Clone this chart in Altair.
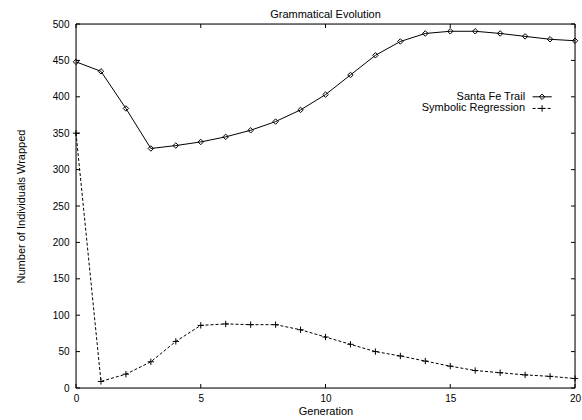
import altair as alt
import pandas as pd

# ---- data ----
generations = list(range(21))
santa_fe = [448, 435, 384, 329, 333, 338, 345, 354, 366, 382, 403,
            430, 457, 476, 487, 490, 490, 487, 483, 479, 477]
symbolic = [350, 9, 19, 36, 64, 86, 88, 87, 87, 80, 70,
            60, 50, 44, 37, 30, 24, 21, 18, 16, 13]
series_names = ["Santa Fe Trail", "Symbolic Regression"]
x_ticks = [0, 5, 10, 15, 20]
y_ticks = [0, 50, 100, 150, 200, 250, 300, 350, 400, 450, 500]

FONT = "Liberation Sans"
X_DOM = [0, 20]
Y_DOM = [0, 500]
W, H = 499, 364
XT = 4 * (X_DOM[1] - X_DOM[0]) / W   # 4px inward tick in data units
YT = 4 * (Y_DOM[1] - Y_DOM[0]) / H

sf = pd.DataFrame({"g": generations, "v": santa_fe})
sr = pd.DataFrame({"g": generations, "v": symbolic})

xs = alt.Scale(domain=X_DOM, nice=False, zero=False)
ys = alt.Scale(domain=Y_DOM, nice=False)

x_axis = alt.Axis(values=x_ticks, title="Generation", tickSize=0, domain=False,
                  grid=False, labelPadding=5, titlePadding=2, format="d",
                  labelFlush=False, titleFontWeight="normal")
y_axis = alt.Axis(values=y_ticks, title="Number of Individuals Wrapped",
                  tickSize=0, domain=False, grid=False, labelPadding=7,
                  titlePadding=26, format="d", labelFlush=False,
                  titleFontWeight="normal")


def X(field="g"):
    return alt.X(f"{field}:Q", scale=xs, axis=x_axis)


def Y(field="v"):
    return alt.Y(f"{field}:Q", scale=ys, axis=y_axis)


sf_line = alt.Chart(sf).mark_line(color="black", strokeWidth=1).encode(x=X(), y=Y())
sf_pts = alt.Chart(sf).mark_point(shape="diamond", filled=False, color="black",
                                  size=30, strokeWidth=1, opacity=1).encode(x=X(), y=Y())
sr_line = alt.Chart(sr).mark_line(color="black", strokeWidth=1,
                                  strokeDash=[3, 2]).encode(x=X(), y=Y())
CROSS = "M-1,0H1M0,-1V1"
sr_pts = alt.Chart(sr).mark_point(shape=CROSS, filled=False, color="black",
                                  size=40, strokeWidth=1, opacity=1).encode(x=X(), y=Y())

# border box and inward, mirrored ticks (gnuplot style)
rows = [
    {"x": X_DOM[0], "x2": X_DOM[1], "y": Y_DOM[0], "y2": Y_DOM[0]},
    {"x": X_DOM[0], "x2": X_DOM[1], "y": Y_DOM[1], "y2": Y_DOM[1]},
    {"x": X_DOM[0], "x2": X_DOM[0], "y": Y_DOM[0], "y2": Y_DOM[1]},
    {"x": X_DOM[1], "x2": X_DOM[1], "y": Y_DOM[0], "y2": Y_DOM[1]},
]
for t in x_ticks:
    rows.append({"x": t, "x2": t, "y": Y_DOM[0], "y2": Y_DOM[0] + YT})
    rows.append({"x": t, "x2": t, "y": Y_DOM[1], "y2": Y_DOM[1] - YT})
for t in y_ticks:
    rows.append({"x": X_DOM[0], "x2": X_DOM[0] + XT, "y": t, "y2": t})
    rows.append({"x": X_DOM[1], "x2": X_DOM[1] - XT, "y": t, "y2": t})
frame = alt.Chart(pd.DataFrame(rows)).mark_rule(color="black", strokeWidth=1).encode(
    x=X("x"), x2="x2:Q", y=Y("y"), y2="y2:Q")

# key (gnuplot style: label left of sample)
key_y = [400, 384]
key = pd.DataFrame({"name": series_names, "ty": key_y,
                    "tx": [18.0, 18.0], "lx": [18.3, 18.3], "lx2": [19.07, 19.07],
                    "mx": [18.68, 18.68]})
key_text = alt.Chart(key).mark_text(align="right", baseline="middle", font=FONT,
                                    fontSize=11, color="black").encode(
    x=X("tx"), y=Y("ty"), text="name:N")
key_sf_line = alt.Chart(key.iloc[[0]]).mark_rule(color="black", strokeWidth=1).encode(
    x=X("lx"), x2="lx2:Q", y=Y("ty"))
key_sr_line = alt.Chart(key.iloc[[1]]).mark_rule(color="black", strokeWidth=1,
                                                 strokeDash=[3, 2]).encode(
    x=X("lx"), x2="lx2:Q", y=Y("ty"))
key_sf_pt = alt.Chart(key.iloc[[0]]).mark_point(shape="diamond", filled=False, color="black",
                                                size=30, strokeWidth=1, opacity=1).encode(
    x=X("mx"), y=Y("ty"))
key_sr_pt = alt.Chart(key.iloc[[1]]).mark_point(shape=CROSS, filled=False, color="black",
                                                size=40, strokeWidth=1, opacity=1).encode(
    x=X("mx"), y=Y("ty"))

chart = alt.layer(
    frame, sf_line, sr_line, sf_pts, sr_pts,
    key_text, key_sf_line, key_sr_line, key_sf_pt, key_sr_pt,
).properties(
    width=W, height=H,
    title=alt.TitleParams("Grammatical Evolution", font=FONT, fontSize=11,
                          fontWeight="normal", color="black", anchor="middle",
                          frame="group", offset=4, dy=5),
    autosize=alt.AutoSizeParams(type="none"),
    padding={"left": 76, "top": 24, "right": 7, "bottom": 32},
).configure_view(
    stroke=None
).configure_axis(
    labelFont=FONT, titleFont=FONT, labelFontSize=11, titleFontSize=11,
    labelColor="black", titleColor="black", titleFontWeight="normal"
).configure(background="white")

chart.save("out.html", embed_options={"renderer": "svg", "actions": False})
